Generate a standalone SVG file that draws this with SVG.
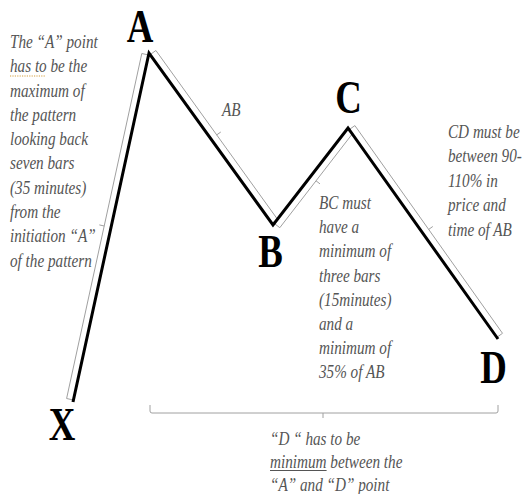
<svg xmlns="http://www.w3.org/2000/svg" width="524" height="494" viewBox="0 0 524 494">
<style>
.lbl{font-family:"Liberation Serif","Times New Roman",serif;font-weight:bold;font-size:46px;fill:#000;text-anchor:middle}
.note{font-family:"Liberation Serif","Times New Roman",serif;font-style:italic;font-size:19px;fill:#555}
.strip{fill:#fff;stroke:#a0a0a0;stroke-width:1;stroke-linejoin:round}
.tick{stroke:#a0a0a0;stroke-width:1;fill:none}
.zig{fill:none;stroke:#000;stroke-width:3;stroke-linejoin:miter;stroke-linecap:butt}
</style>
<rect width="524" height="494" fill="#fff"/>
<g id="connectors">
  <polygon class="strip" points="73.4,400 148.6,55 141.8,53.5 66.6,398.5"/>
  <line class="tick" x1="104.2" y1="226" x2="99.3" y2="224.9"/>
  <polygon class="strip" points="150.2,54.6 271.8,223.4 277.5,219.3 155.9,50.5"/>
  <line class="tick" x1="216.7" y1="134.9" x2="220.8" y2="132"/>
  <polygon class="strip" points="274.2,223.4 346.8,129.6 352.3,133.9 279.8,227.7"/>
  <line class="tick" x1="316" y1="180.8" x2="320" y2="183.9"/>
  <polygon class="strip" points="349.2,129.6 496.8,337.4 502.5,333.3 354.9,125.6"/>
  <line class="tick" x1="428.7" y1="229.4" x2="432.8" y2="226.5"/>
  <polyline class="zig" points="73,402 149,53 273,225 348,128 498,339"/>
  <path class="tick" d="M150,405 L150,411 Q150,413 152,413 L496,413 Q498,413 498,411 L498,405 M323,413 L323,418"/>
</g>
<g id="node-X"><text class="lbl" transform="scale(0.8,1)" x="77.5" y="440">X</text></g>
<g id="node-A"><text class="lbl" transform="scale(0.8,1)" x="175" y="42">A</text></g>
<g id="node-B"><text class="lbl" transform="scale(0.8,1)" x="338.1" y="267">B</text></g>
<g id="node-C"><text class="lbl" transform="scale(0.8,1)" x="435.6" y="113">C</text></g>
<g id="node-D"><text class="lbl" transform="scale(0.8,1)" x="616.9" y="383">D</text></g>
<g id="note-A">
  <text class="note" transform="scale(0.8,1)">
    <tspan x="12.5" y="48">The “A” point</tspan>
    <tspan x="12.5" y="72.3">has to be the</tspan>
    <tspan x="12.5" y="96.6">maximum of</tspan>
    <tspan x="12.5" y="121">the pattern</tspan>
    <tspan x="12.5" y="145">looking back</tspan>
    <tspan x="12.5" y="169.5">seven bars</tspan>
    <tspan x="12.5" y="194">(35 minutes)</tspan>
    <tspan x="12.5" y="218">from the</tspan>
    <tspan x="12.5" y="242.5">initiation “A”</tspan>
    <tspan x="12.5" y="267">of the pattern</tspan>
  </text>
  <line x1="10" y1="76" x2="45" y2="76" stroke="#d4a040" stroke-width="1.2" stroke-dasharray="1.2,1.2"/>
</g>
<g id="note-AB"><text class="note" transform="scale(0.8,1)" x="277.5" y="116">AB</text></g>
<g id="note-BC">
  <text class="note" transform="scale(0.8,1)">
    <tspan x="398.75" y="209">BC must</tspan>
    <tspan x="398.75" y="233">have a</tspan>
    <tspan x="398.75" y="257">minimum of</tspan>
    <tspan x="398.75" y="282">three bars</tspan>
    <tspan x="398.75" y="306">(15minutes)</tspan>
    <tspan x="398.75" y="330">and a</tspan>
    <tspan x="398.75" y="354">minimum of</tspan>
    <tspan x="398.75" y="378">35% of AB</tspan>
  </text>
</g>
<g id="note-CD">
  <text class="note" transform="scale(0.8,1)">
    <tspan x="560" y="138">CD must be</tspan>
    <tspan x="560" y="162.5">between 90-</tspan>
    <tspan x="560" y="187">110% in</tspan>
    <tspan x="560" y="211.5">price and</tspan>
    <tspan x="560" y="236">time of AB</tspan>
  </text>
</g>
<g id="note-D">
  <text class="note" transform="scale(0.8,1)">
    <tspan x="337.5" y="445">“D “ has to be</tspan>
    <tspan x="337.5" y="468">minimum between the</tspan>
    <tspan x="337.5" y="491">“A” and “D” point</tspan>
  </text>
  <line x1="270" y1="470.5" x2="326.6" y2="470.5" stroke="#555" stroke-width="1"/>
</g>
</svg>
